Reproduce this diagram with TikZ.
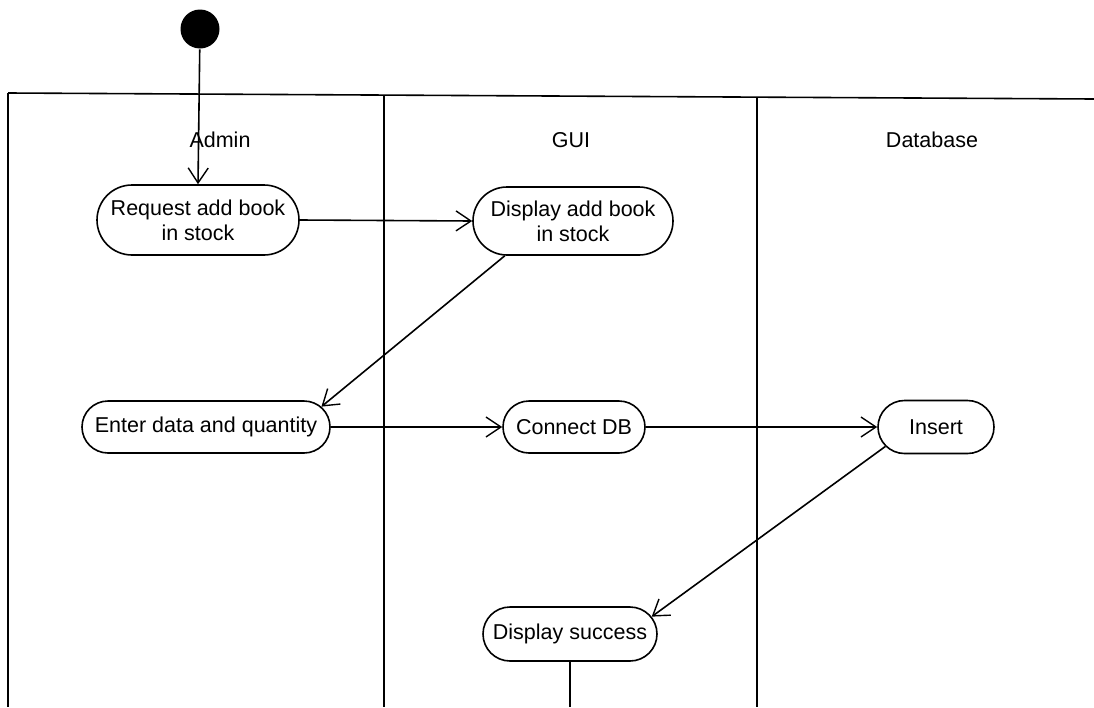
\documentclass[tikz,border=0pt]{standalone}
\usepackage{fontspec}
\setmainfont{Liberation Sans}
\usetikzlibrary{arrows.meta,shapes.misc,calc}
\begin{document}
\begin{tikzpicture}[x=1pt,y=-1pt,line width=1.6pt,
  act/.style={draw,rounded rectangle,align=center,inner sep=0pt,
    font=\fontsize{21.5}{25}\selectfont},
  lane/.style={font=\fontsize{21.5}{25}\selectfont},
  flow/.style={-{Straight Barb[length=15pt,width=20pt,line width=1.4pt]}},
  startnode/.style={circle,fill=black,inner sep=0pt,minimum size=39pt}]
\useasboundingbox[fill=white] (0,0) rectangle (1094,707);

% swimlanes
\coordinate (tl) at (8,93);
\coordinate (tr) at (1094,99);
\coordinate (bot) at (0,707);
\draw (tl) -- (tr);
\draw (8,93) -- (8,707);
\draw (384,95) -- (384,707);
\draw (757,97) -- (757,707);

\node[lane] (lA) at (220,140) {Admin};
\node[lane] (lG) at (571,140) {GUI};
\node[lane] (lD) at (932,140) {Database};

% nodes
\node[startnode] (start) at (200,29) {};
\node[act,minimum width=202pt,minimum height=70pt] (req) at (198,220) {Request add book\\in stock};
\node[act,minimum width=200pt,minimum height=68pt] (disp) at (573,221) {Display add book\\in stock};
\node[act,minimum width=248pt,minimum height=52pt] (enter) at (206,427) {Enter data and quantity};
\node[act,minimum width=142pt,minimum height=52pt] (conn) at (574,427) {Connect DB};
\node[act,minimum width=116pt,minimum height=53pt] (ins) at (936,427) {Insert};
\node[act,minimum width=174pt,minimum height=54pt] (succ) at (570,634) {Display success};

% flows
\draw[flow] (start) -- (req.north);
\draw[flow] (req.east) -- (disp.west);
\draw[flow] (disp.207) -- (enter.10.6);
\draw[flow] (enter.east) -- (conn.west);
\draw[flow] (conn.east) -- (ins.west);
\draw[flow] (ins.201.6) -- (succ.12);
\draw (succ.south) -- (succ.south |- bot);
\end{tikzpicture}
\end{document}
